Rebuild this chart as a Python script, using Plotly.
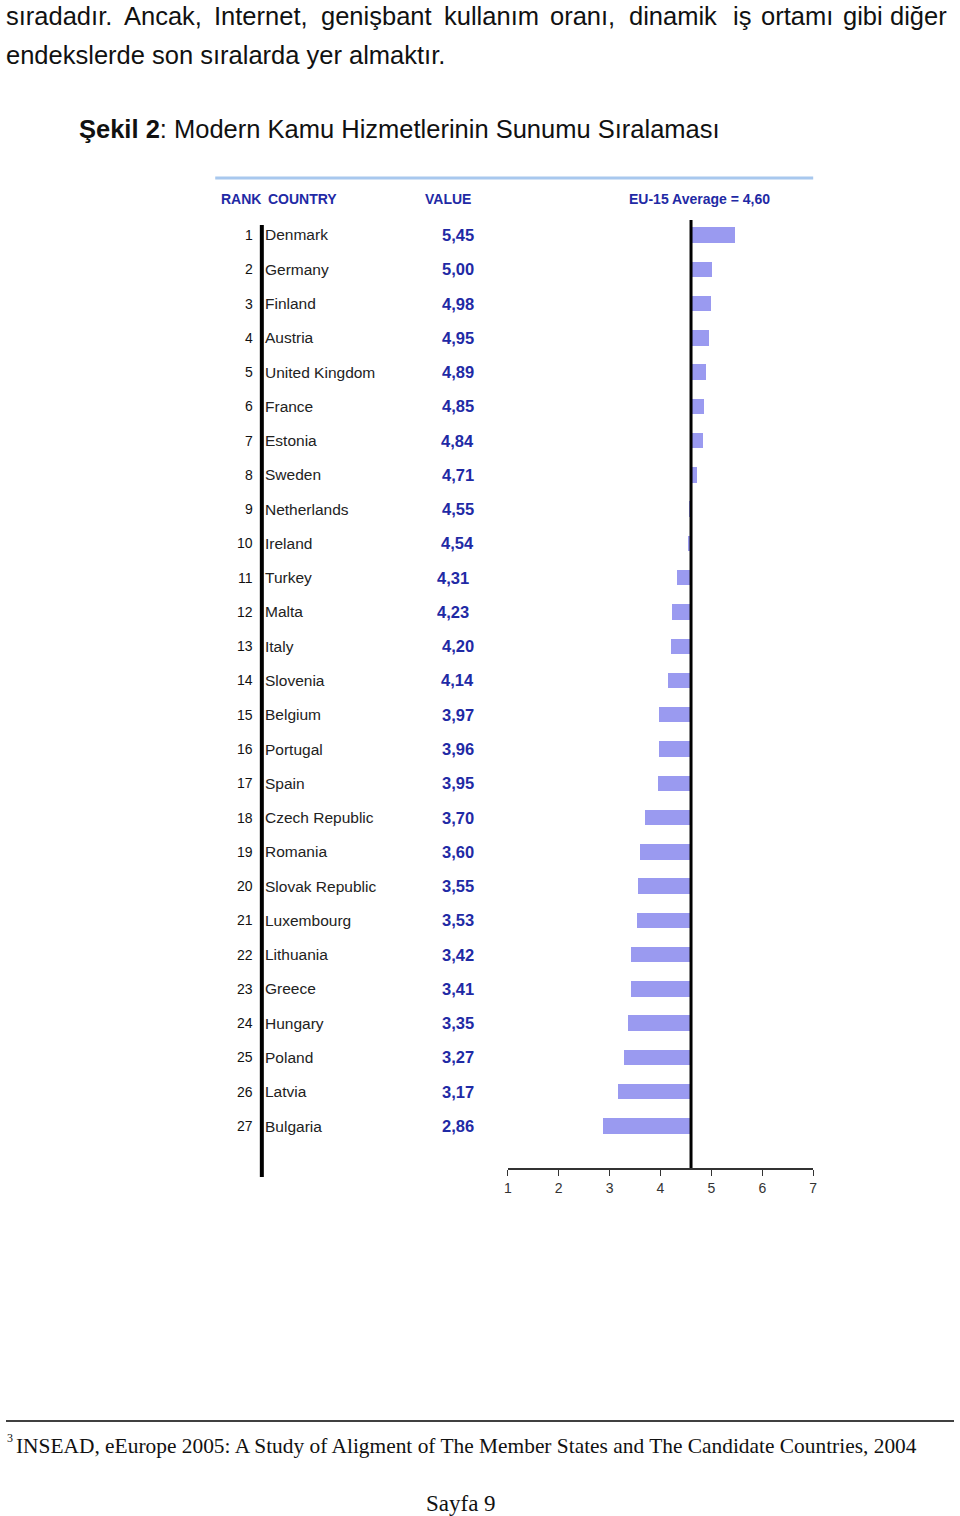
import plotly.graph_objects as go

# ---- data ----
ranks = list(range(1, 28))
countries = ["Denmark", "Germany", "Finland", "Austria", "United Kingdom", "France",
             "Estonia", "Sweden", "Netherlands", "Ireland", "Turkey", "Malta", "Italy",
             "Slovenia", "Belgium", "Portugal", "Spain", "Czech Republic", "Romania",
             "Slovak Republic", "Luxembourg", "Lithuania", "Greece", "Hungary", "Poland",
             "Latvia", "Bulgaria"]
values = [5.45, 5.00, 4.98, 4.95, 4.89, 4.85, 4.84, 4.71, 4.55, 4.54, 4.31, 4.23, 4.20,
          4.14, 3.97, 3.96, 3.95, 3.70, 3.60, 3.55, 3.53, 3.42, 3.41, 3.35, 3.27, 3.17, 2.86]
eu_average = 4.60
x_ticks = [1, 2, 3, 4, 5, 6, 7]

line1_words = ["sıradadır.", "Ancak,", "Internet,", "genişbant", "kullanım", "oranı,",
               "dinamik", "iş", "ortamı", "gibi", "diğer"]
line2_text = "endekslerde son sıralarda yer almaktır."

W, H = 960, 1516
PAD = 4  # annotation inner padding compensation for left-anchored texts
def px(x):
    return x / W
def py(y):
    return 1 - y / H

BLUE = "#1f2aa5"
BAR = "#9a9af0"
SERIF = "Liberation Serif, Times New Roman, serif"

fig = go.Figure()
fig.add_trace(go.Bar(
    y=ranks, x=[v - eu_average for v in values], base=eu_average,
    orientation="h", width=0.45, marker=dict(color=BAR, line=dict(width=0)),
    hoverinfo="skip", showlegend=False,
))

# row geometry: row 1 at y=235px, row 27 at 1126px
row_sp = (1126 - 235) / 26
top_px, bot_px = 220, 1168
y_top = 1 + (top_px - 235) / row_sp
y_bot = 1 + (bot_px - 235) / row_sp

fig.update_layout(
    width=W, height=H, margin=dict(l=0, r=0, t=0, b=0),
    paper_bgcolor="white", plot_bgcolor="white",
    font=dict(family="Liberation Sans, Arial, sans-serif", color="#222"),
    xaxis=dict(domain=[px(508), px(816)], range=[1, 7], tickvals=x_ticks,
               ticks="outside", ticklen=6, tickcolor="#333", tickwidth=1.2,
               showline=True, linecolor="#333", linewidth=1.5,
               showgrid=False, zeroline=False,
               tickfont=dict(size=14, color="#333")),
    yaxis=dict(domain=[py(bot_px), py(top_px)], range=[y_bot, y_top], visible=False),
    bargap=0,
)

ann = []
# body paragraph (justified first line: word left edges)
word_x = [0, 123, 214, 322, 446, 553, 632, 737, 765, 848, 895]
for w, x in zip(line1_words, word_x):
    ann.append(dict(x=px(max(x - PAD, 0)), y=1, xref="paper", yref="paper", xanchor="left", yanchor="top",
                    text=w, showarrow=False, font=dict(size=25.5, color="#111")))
ann.append(dict(x=px(0), y=py(55), xref="paper", yref="paper", xanchor="left", yanchor="middle",
                text=line2_text, showarrow=False, font=dict(size=25.5, color="#111")))
ann.append(dict(x=px(78 - PAD), y=py(129), xref="paper", yref="paper", xanchor="left", yanchor="middle",
                text="<b>Şekil 2</b>: Modern Kamu Hizmetlerinin Sunumu Sıralaması",
                showarrow=False, font=dict(size=25.5, color="#111")))

# header
for t, x in [("RANK", 221), ("COUNTRY", 268), ("VALUE", 427), ("EU-15 Average = 4,60", 632)]:
    ann.append(dict(x=px(x - PAD), y=py(199), xref="paper", yref="paper", xanchor="left", yanchor="middle",
                    text=f"<b>{t}</b>", showarrow=False, font=dict(size=14, color=BLUE)))

# rows
value_shift = {11: -5, 12: -5}
for r, c, v in zip(ranks, countries, values):
    ann.append(dict(x=px(253), y=r, xref="paper", yref="y", xanchor="right", yanchor="middle",
                    text=str(r), showarrow=False, font=dict(size=14, color="#111")))
    ann.append(dict(x=px(265 - PAD), y=r, xref="paper", yref="y", xanchor="left", yanchor="middle",
                    text=c, showarrow=False, font=dict(size=15.5, color="#222")))
    ann.append(dict(x=px(476), y=r, xref="paper", yref="y", xanchor="right", yanchor="middle",
                    xshift=value_shift.get(r, 0),
                    text="<b>" + f"{v:.2f}".replace(".", ",") + "</b>", showarrow=False,
                    font=dict(size=16.5, color=BLUE)))

# footnote
ann.append(dict(x=px(1), y=py(1438), xref="paper", yref="paper", xanchor="left", yanchor="middle",
                text="3", showarrow=False, font=dict(family=SERIF, size=12, color="#111")))
ann.append(dict(x=px(14 - PAD), y=py(1446), xref="paper", yref="paper", xanchor="left", yanchor="middle",
                text="INSEAD, eEurope 2005: A Study of Aligment of The Member States and The Candidate Countries, 2004",
                showarrow=False, font=dict(family=SERIF, size=21.4, color="#111")))
ann.append(dict(x=px(461), y=py(1503), xref="paper", yref="paper", xanchor="center", yanchor="middle",
                text="Sayfa 9", showarrow=False, font=dict(family=SERIF, size=23, color="#111")))
fig.update_layout(annotations=ann)

shapes = [
    dict(type="line", xref="paper", yref="paper", x0=px(213), x1=px(816), y0=py(178), y1=py(178),
         line=dict(color="#a8c8ee", width=3)),
    dict(type="line", xref="paper", yref="paper", x0=px(260), x1=px(260), y0=py(225), y1=py(1177),
         line=dict(color="#000", width=4)),
    dict(type="line", xref="x", yref="paper", x0=eu_average, x1=eu_average, y0=py(bot_px), y1=py(top_px),
         line=dict(color="#000", width=3)),
    dict(type="line", xref="paper", yref="paper", x0=px(2), x1=px(958), y0=py(1421), y1=py(1421),
         line=dict(color="#000", width=1.5)),
]
fig.update_layout(shapes=shapes)

fig.write_html("out.html", config={"displayModeBar": False},
               post_script="document.body.style.margin='0';document.body.style.overflow='hidden';")
